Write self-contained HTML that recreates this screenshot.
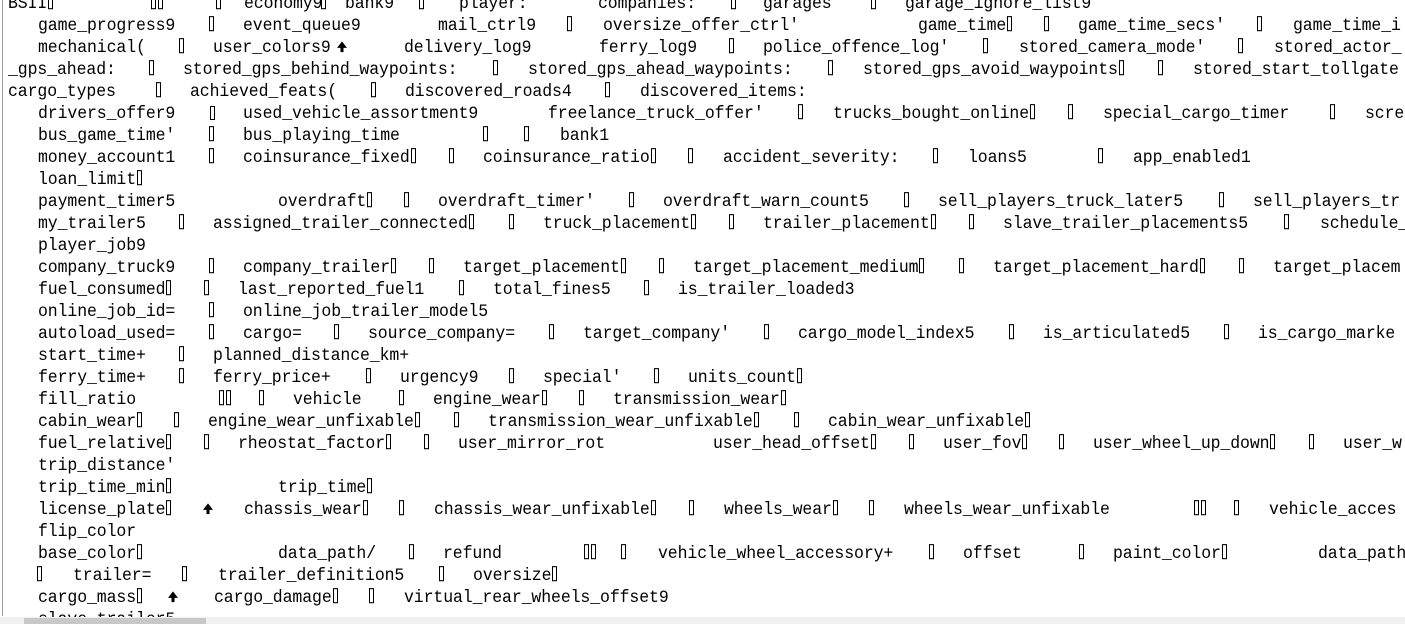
<!DOCTYPE html>
<html><head><meta charset="utf-8"><style>
html,body{margin:0;padding:0;background:#fff;width:1405px;height:624px;overflow:hidden;position:relative}
.l{position:absolute;left:0;height:22px;width:1405px;line-height:22px;margin-top:2px}
.l i{position:absolute;top:0;font-style:normal;font-family:"Liberation Mono",monospace;font-size:16.5px;color:#000;white-space:pre;letter-spacing:-0.1px;transform:scaleY(1.08);transform-origin:0 60%}
b{display:inline-block;width:3px;height:12px;border:1px solid #000;margin:0 1px 0 1px;vertical-align:-1px}
.a{display:inline-block;width:12px;height:14px;vertical-align:-2px}
#lb{position:absolute;left:2px;top:0;width:1px;height:616px;background:#a0a0a0}
#sb{position:absolute;left:0;top:617px;width:1405px;height:7px;background:#f0f0f0}
#th{position:absolute;left:24px;top:618px;width:182px;height:6px;background:#c8c8c8}
#xb{position:absolute;left:210px;top:106px;width:3px;height:12px;border:1px solid #000}
</style></head><body>
<div id="lb"></div>
<div class="l" style="top:-9px"><i style="left:8px">BSII<b></b></i><i style="left:150px"><b></b><b></b></i><i style="left:215px"><b></b></i><i style="left:244px">economy9</i><i style="left:320px"><b></b></i><i style="left:345px">bank9</i><i style="left:418px"><b></b></i><i style="left:459px">player:</i><i style="left:598px">companies:</i><i style="left:730px"><b></b></i><i style="left:763px">garages</i><i style="left:870px"><b></b></i><i style="left:905px">garage_ignore_list9</i></div>
<div class="l" style="top:13px"><i style="left:38px">game_progress9</i><i style="left:208px"><b></b></i><i style="left:243px">event_queue9</i><i style="left:438px">mail_ctrl9</i><i style="left:566px"><b></b></i><i style="left:603px">oversize_offer_ctrl'</i><i style="left:918px">game_time<b></b></i><i style="left:1043px"><b></b></i><i style="left:1078px">game_time_secs'</i><i style="left:1256px"><b></b></i><i style="left:1293px">game_time_i</i></div>
<div class="l" style="top:35px"><i style="left:38px">mechanical(</i><i style="left:178px"><b></b></i><i style="left:213px">user_colors9</i><i style="left:336px"><svg class="a" viewBox="0 0 12 14"><path d="M6 2 L11 8 L7.5 8 L7.5 12 L4.5 12 L4.5 8 L1 8 Z"/></svg></i><i style="left:404px">delivery_log9</i><i style="left:599px">ferry_log9</i><i style="left:728px"><b></b></i><i style="left:763px">police_offence_log'</i><i style="left:982px"><b></b></i><i style="left:1019px">stored_camera_mode'</i><i style="left:1237px"><b></b></i><i style="left:1274px">stored_actor_</i></div>
<div class="l" style="top:57px"><i style="left:8px">_gps_ahead:</i><i style="left:148px"><b></b></i><i style="left:183px">stored_gps_behind_waypoints:</i><i style="left:492px"><b></b></i><i style="left:528px">stored_gps_ahead_waypoints:</i><i style="left:827px"><b></b></i><i style="left:863px">stored_gps_avoid_waypoints<b></b></i><i style="left:1157px"><b></b></i><i style="left:1193px">stored_start_tollgate</i></div>
<div class="l" style="top:79px"><i style="left:8px">cargo_types</i><i style="left:155px"><b></b></i><i style="left:190px">achieved_feats(</i><i style="left:370px"><b></b></i><i style="left:405px">discovered_roads4</i><i style="left:604px"><b></b></i><i style="left:640px">discovered_items:</i></div>
<div class="l" style="top:101px"><i style="left:38px">drivers_offer9</i><i style="left:243px">used_vehicle_assortment9</i><i style="left:548px">freelance_truck_offer'</i><i style="left:797px"><b></b></i><i style="left:833px">trucks_bought_online<b></b></i><i style="left:1067px"><b></b></i><i style="left:1103px">special_cargo_timer</i><i style="left:1329px"><b></b></i><i style="left:1365px">scre</i></div>
<div id="xb"></div>
<div class="l" style="top:123px"><i style="left:38px">bus_game_time'</i><i style="left:208px"><b></b></i><i style="left:243px">bus_playing_time</i><i style="left:482px"><b></b></i><i style="left:523px"><b></b></i><i style="left:560px">bank1</i></div>
<div class="l" style="top:145px"><i style="left:38px">money_account1</i><i style="left:208px"><b></b></i><i style="left:243px">coinsurance_fixed<b></b></i><i style="left:448px"><b></b></i><i style="left:483px">coinsurance_ratio<b></b></i><i style="left:687px"><b></b></i><i style="left:723px">accident_severity:</i><i style="left:932px"><b></b></i><i style="left:968px">loans5</i><i style="left:1097px"><b></b></i><i style="left:1133px">app_enabled1</i></div>
<div class="l" style="top:167px"><i style="left:38px">loan_limit<b></b></i></div>
<div class="l" style="top:189px"><i style="left:38px">payment_timer5</i><i style="left:278px">overdraft<b></b></i><i style="left:403px"><b></b></i><i style="left:438px">overdraft_timer'</i><i style="left:628px"><b></b></i><i style="left:663px">overdraft_warn_count5</i><i style="left:903px"><b></b></i><i style="left:938px">sell_players_truck_later5</i><i style="left:1218px"><b></b></i><i style="left:1253px">sell_players_tr</i></div>
<div class="l" style="top:211px"><i style="left:38px">my_trailer5</i><i style="left:178px"><b></b></i><i style="left:213px">assigned_trailer_connected<b></b></i><i style="left:508px"><b></b></i><i style="left:543px">truck_placement<b></b></i><i style="left:728px"><b></b></i><i style="left:763px">trailer_placement<b></b></i><i style="left:968px"><b></b></i><i style="left:1003px">slave_trailer_placements5</i><i style="left:1283px"><b></b></i><i style="left:1320px">schedule_</i></div>
<div class="l" style="top:233px"><i style="left:38px">player_job9</i></div>
<div class="l" style="top:255px"><i style="left:38px">company_truck9</i><i style="left:208px"><b></b></i><i style="left:243px">company_trailer<b></b></i><i style="left:428px"><b></b></i><i style="left:463px">target_placement<b></b></i><i style="left:658px"><b></b></i><i style="left:693px">target_placement_medium<b></b></i><i style="left:958px"><b></b></i><i style="left:993px">target_placement_hard<b></b></i><i style="left:1238px"><b></b></i><i style="left:1273px">target_placem</i></div>
<div class="l" style="top:277px"><i style="left:38px">fuel_consumed<b></b></i><i style="left:203px"><b></b></i><i style="left:238px">last_reported_fuel1</i><i style="left:458px"><b></b></i><i style="left:493px">total_fines5</i><i style="left:643px"><b></b></i><i style="left:678px">is_trailer_loaded3</i></div>
<div class="l" style="top:299px"><i style="left:38px">online_job_id=</i><i style="left:208px"><b></b></i><i style="left:243px">online_job_trailer_model5</i></div>
<div class="l" style="top:321px"><i style="left:38px">autoload_used=</i><i style="left:208px"><b></b></i><i style="left:243px">cargo=</i><i style="left:333px"><b></b></i><i style="left:368px">source_company=</i><i style="left:548px"><b></b></i><i style="left:583px">target_company'</i><i style="left:763px"><b></b></i><i style="left:798px">cargo_model_index5</i><i style="left:1008px"><b></b></i><i style="left:1043px">is_articulated5</i><i style="left:1223px"><b></b></i><i style="left:1258px">is_cargo_marke</i></div>
<div class="l" style="top:343px"><i style="left:38px">start_time+</i><i style="left:178px"><b></b></i><i style="left:213px">planned_distance_km+</i></div>
<div class="l" style="top:365px"><i style="left:38px">ferry_time+</i><i style="left:178px"><b></b></i><i style="left:213px">ferry_price+</i><i style="left:365px"><b></b></i><i style="left:400px">urgency9</i><i style="left:508px"><b></b></i><i style="left:543px">special'</i><i style="left:653px"><b></b></i><i style="left:688px">units_count<b></b></i></div>
<div class="l" style="top:387px"><i style="left:38px">fill_ratio</i><i style="left:218px"><b></b><b></b></i><i style="left:258px"><b></b></i><i style="left:293px">vehicle</i><i style="left:398px"><b></b></i><i style="left:433px">engine_wear<b></b></i><i style="left:578px"><b></b></i><i style="left:613px">transmission_wear<b></b></i></div>
<div class="l" style="top:409px"><i style="left:38px">cabin_wear<b></b></i><i style="left:173px"><b></b></i><i style="left:208px">engine_wear_unfixable<b></b></i><i style="left:453px"><b></b></i><i style="left:488px">transmission_wear_unfixable<b></b></i><i style="left:793px"><b></b></i><i style="left:828px">cabin_wear_unfixable<b></b></i></div>
<div class="l" style="top:431px"><i style="left:38px">fuel_relative<b></b></i><i style="left:203px"><b></b></i><i style="left:238px">rheostat_factor<b></b></i><i style="left:423px"><b></b></i><i style="left:458px">user_mirror_rot</i><i style="left:713px">user_head_offset<b></b></i><i style="left:908px"><b></b></i><i style="left:943px">user_fov<b></b></i><i style="left:1058px"><b></b></i><i style="left:1093px">user_wheel_up_down<b></b></i><i style="left:1308px"><b></b></i><i style="left:1343px">user_w</i></div>
<div class="l" style="top:453px"><i style="left:38px">trip_distance'</i></div>
<div class="l" style="top:475px"><i style="left:38px">trip_time_min<b></b></i><i style="left:278px">trip_time<b></b></i></div>
<div class="l" style="top:497px"><i style="left:38px">license_plate<b></b></i><i style="left:202px"><svg class="a" viewBox="0 0 12 14"><path d="M6 2 L11 8 L7.5 8 L7.5 12 L4.5 12 L4.5 8 L1 8 Z"/></svg></i><i style="left:244px">chassis_wear<b></b></i><i style="left:398px"><b></b></i><i style="left:434px">chassis_wear_unfixable<b></b></i><i style="left:688px"><b></b></i><i style="left:724px">wheels_wear<b></b></i><i style="left:868px"><b></b></i><i style="left:904px">wheels_wear_unfixable</i><i style="left:1193px"><b></b><b></b></i><i style="left:1233px"><b></b></i><i style="left:1269px">vehicle_acces</i></div>
<div class="l" style="top:519px"><i style="left:38px">flip_color</i></div>
<div class="l" style="top:541px"><i style="left:38px">base_color<b></b></i><i style="left:278px">data_path/</i><i style="left:408px"><b></b></i><i style="left:443px">refund</i><i style="left:583px"><b></b><b></b></i><i style="left:620px"><b></b></i><i style="left:658px">vehicle_wheel_accessory+</i><i style="left:928px"><b></b></i><i style="left:963px">offset</i><i style="left:1078px"><b></b></i><i style="left:1113px">paint_color<b></b></i><i style="left:1318px">data_path</i></div>
<div class="l" style="top:563px"><i style="left:36px"><b></b></i><i style="left:73px">trailer=</i><i style="left:181px"><b></b></i><i style="left:218px">trailer_definition5</i><i style="left:438px"><b></b></i><i style="left:473px">oversize<b></b></i></div>
<div class="l" style="top:585px"><i style="left:38px">cargo_mass<b></b></i><i style="left:167px"><svg class="a" viewBox="0 0 12 14"><path d="M6 2 L11 8 L7.5 8 L7.5 12 L4.5 12 L4.5 8 L1 8 Z"/></svg></i><i style="left:214px">cargo_damage<b></b></i><i style="left:368px"><b></b></i><i style="left:404px">virtual_rear_wheels_offset9</i></div>
<div class="l" style="top:607px"><i style="left:38px">slave_trailer5</i></div>
<div id="sb"></div><div id="th"></div>
</body></html>
